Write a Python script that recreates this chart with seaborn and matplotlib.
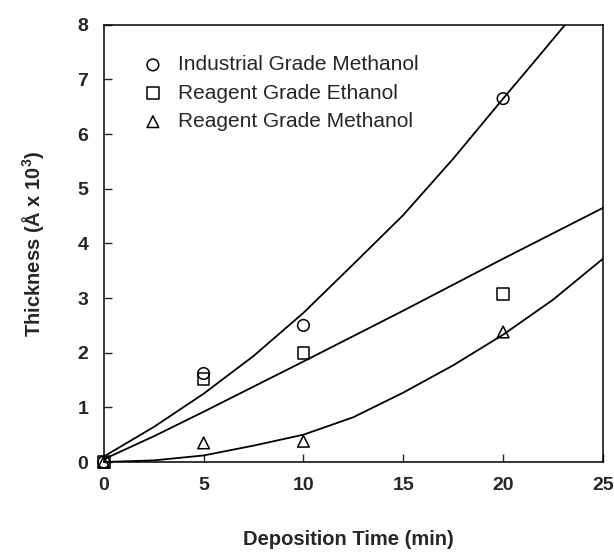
import matplotlib
matplotlib.use("Agg")
import matplotlib.pyplot as plt
import seaborn as sns
import pandas as pd

# measured points
time_pts = [0, 5, 10, 20]
ind_meth = [0.0, 1.62, 2.50, 6.65]
reag_eth = [0.0, 1.52, 2.00, 3.08]
reag_meth = [0.0, 0.35, 0.38, 2.38]

# fitted curves
ind_curve_x = [0, 2.5, 5, 7.5, 10, 12.5, 15, 17.5, 20, 21.5, 23.1]
ind_curve_y = [0.10, 0.64, 1.25, 1.94, 2.73, 3.62, 4.52, 5.55, 6.65, 7.30, 8.0]
eth_curve_x = [0, 2.5, 5, 7.5, 10, 15, 20, 25]
eth_curve_y = [0.05, 0.47, 0.92, 1.38, 1.84, 2.77, 3.72, 4.65]
meth_curve_x = [0, 2.5, 5, 7.5, 10, 12.5, 15, 17.5, 20, 22.5, 25]
meth_curve_y = [0.0, 0.03, 0.12, 0.30, 0.50, 0.82, 1.27, 1.77, 2.33, 2.97, 3.72]

labels = ["Industrial Grade Methanol", "Reagent Grade Ethanol", "Reagent Grade Methanol"]
markers = ["o", "s", "^"]

sns.set_theme(style="ticks")
plt.rcParams["font.family"] = ["Liberation Sans", "DejaVu Sans"]
plt.rcParams["mathtext.fontset"] = "custom"
plt.rcParams["mathtext.bf"] = "Liberation Sans:bold"
plt.rcParams["mathtext.rm"] = "Liberation Sans"

fig = plt.figure(figsize=(6.14, 5.52), dpi=100)
ax = fig.add_axes([0.169, 0.163, 0.813, 0.792])

for cx, cy in [(ind_curve_x, ind_curve_y), (eth_curve_x, eth_curve_y), (meth_curve_x, meth_curve_y)]:
    sns.lineplot(x=cx, y=cy, ax=ax, color="black", lw=1.3, sort=False)

for vals, lab, mk in zip([ind_meth, reag_eth, reag_meth], labels, markers):
    df = pd.DataFrame({"t": time_pts, "v": vals})
    sns.scatterplot(data=df, x="t", y="v", ax=ax, marker=mk, s=70,
                    facecolor="none", edgecolor="black", linewidth=1.1,
                    label=lab, zorder=5, clip_on=False)

ax.set_xlim(0, 25)
ax.set_ylim(0, 8)
ax.set_xticks([0, 5, 10, 15, 20, 25])
ax.set_yticks(range(0, 9))
ax.tick_params(direction="in", length=6, width=1, labelsize=14, pad=11)
for t in ax.get_xticklabels() + ax.get_yticklabels():
    t.set_fontweight("bold")
for s in ax.spines.values():
    s.set_linewidth(1.1)
    s.set_color("black")

ax.set_xlabel("Deposition Time (min)", fontsize=14.5, fontweight="bold")
ax.set_ylabel(r"Thickness (Å x 10$^\mathbf{3}$)", fontsize=14.5, fontweight="bold")
ax.xaxis.set_label_coords(0.49, -0.155)
ax.yaxis.set_label_coords(-0.115, 0.5)

leg = ax.legend(loc="upper left", bbox_to_anchor=(0.04, 0.973), frameon=False,
                fontsize=15, handlelength=1.0, handletextpad=0.7,
                labelspacing=0.45, markerscale=1.0)

fig.savefig("out.png", dpi=100)
